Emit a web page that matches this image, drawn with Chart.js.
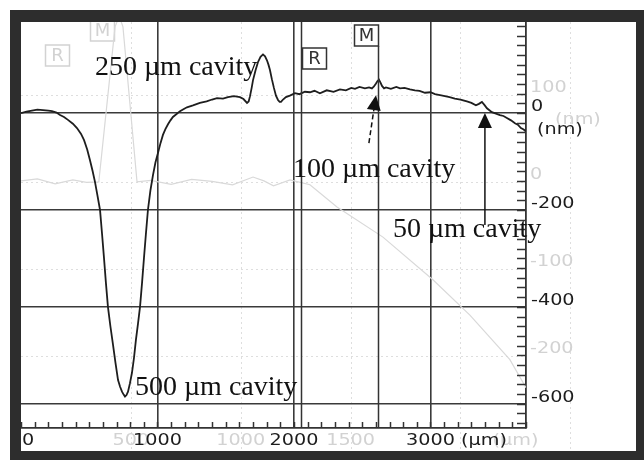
<!DOCTYPE html>
<html>
<head>
<meta charset="utf-8">
<title>Perfil de cavidades</title>
<script src="https://cdn.jsdelivr.net/npm/chart.js@4.4.0/dist/chart.umd.min.js"></script>
<style>
  html, body { margin: 0; padding: 0; background: #fff; }
  canvas { display: block; }
</style>
</head>
<body>
<canvas id="perfil" width="644" height="460"></canvas>
<script>
// perfil principal: posición (µm) y altura (nm)
const posX = [0, 40, 80, 120, 161, 200, 227, 260, 286, 315, 344, 380, 410, 440, 462, 485, 505, 525, 542, 560,
  579, 594, 608, 622, 637, 655, 674, 692, 711, 726, 740, 752, 762, 773, 784, 798, 813, 828, 842, 857,
  872, 887, 901, 915, 930, 948, 967, 985, 1004, 1022, 1040, 1058, 1077, 1095, 1113, 1140, 1165, 1190, 1216, 1260,
  1311, 1360, 1400, 1436, 1480, 1516, 1560, 1604, 1630, 1656, 1668, 1678, 1690, 1700, 1718, 1736, 1755, 1773, 1788, 1802,
  1813, 1824, 1838, 1853, 1868, 1883, 1895, 1905, 1920, 1941, 1970, 2007, 2040, 2080, 2117, 2150, 2190, 2240, 2290, 2337,
  2380, 2420, 2447, 2480, 2520, 2550, 2571, 2586, 2601, 2612, 2623, 2634, 2645, 2660, 2674, 2710, 2750, 2777, 2810, 2850,
  2886, 2920, 2960, 3000, 3033, 3070, 3106, 3140, 3179, 3220, 3267, 3300, 3333, 3355, 3377, 3395, 3414, 3432, 3450, 3480,
  3509, 3535, 3560, 3590, 3619, 3640, 3663, 3683, 3700];
const altura = [0, 3, 5, 7, 6, 5, 4, 1, -4, -8, -14, -22, -31, -43, -56, -75, -97, -120, -142, -170,
  -200, -250, -299, -350, -400, -440, -478, -515, -551, -565, -575, -581, -585, -582, -575, -558, -536, -505, -468, -435,
  -400, -350, -299, -250, -200, -160, -128, -102, -82, -62, -45, -33, -23, -15, -8, -2, 4, 8, 12, 16,
  21, 24, 28, 31, 30, 33, 35, 33, 29, 21, 24, 35, 52, 68, 88, 105, 116, 121, 117, 109,
  100, 89, 70, 52, 36, 27, 23, 23, 28, 33, 36, 41, 39, 44, 43, 46, 41, 47, 44, 49,
  47, 52, 50, 54, 51, 53, 51, 55, 61, 66, 69, 63, 56, 51, 53, 50, 54, 51, 52, 49,
  47, 46, 42, 43, 39, 37, 35, 33, 30, 28, 24, 21, 16, 19, 23, 17, 10, 6, 2, -1,
  -4, -6, -10, -15, -21, -24, -31, -34, -38];

// perfil "fantasma" de fondo (captura superpuesta), en las mismas unidades
const fantasmaX = [0, 120, 250, 380, 480, 570, 689, 720, 747, 850, 950, 1100, 1250, 1400, 1550, 1700, 1780, 1850, 1971,
  2117, 2315, 2652, 3018, 3289, 3582, 3700];
const fantasmaY = [-140, -136, -146, -138, -143, -142, 178, 200, 178, -142, -139, -147, -137, -141, -148, -132, -140, -150, -138,
  -148, -194, -256, -344, -417, -509, -567];

// ejes
const xGrid = [1000, 2000, 3000];
const xTickLabels = ['0', '1000', '2000', '3000'];
const xTickValues = [0, 1000, 2000, 3000];
const xUnidad = '(µm)';
const yGrid = [0, -200, -400, -600];
const yTickLabels = ['0', '-200', '-400', '-600'];
const yUnidad = '(nm)';
const pasoMenorX = 100;
const pasoMenorY = 20;

// marcadores R / M del perfilómetro
const marcadores = [{ label: 'R', x: 2050, lado: 'der', top: 48 }, { label: 'M', x: 2615, lado: 'izq', top: 25 }];
const marcadoresFantasma = [{ label: 'R', x: 168, lado: 'der', top: 45 }, { label: 'M', x: 681, lado: 'izq', top: 20 }];

// escala del fondo: valores fantasma -> unidades principales
const fantasmaXLabels = ['500', '1000', '1500'];
const fantasmaXValores = [500, 1000, 1500];
const fantasmaYLabels = ['100', '0', '-100', '-200'];
const fantasmaYValores = [100, 0, -100, -200];
const gx = v => v * 1.61;
const gy = v => -142 + v * 1.794;

// anotaciones
const notas = [
  { text: '250 µm cavity', x: 542, y: 78 },
  { text: '100 µm cavity', x: 1993, y: -132 },
  { text: '50 µm cavity', x: 2725, y: -256 },
  { text: '500 µm cavity', x: 835, y: -581 }
];
const flechas = [
  { desde: [2549, -62], hasta: [2601, 37], dash: [5, 3] },
  { desde: [3399, -231], hasta: [3399, 0], dash: [] }
];

const colorFantasma = '#d2d2d2';
const fuenteEje = '16px "DejaVu Sans"';

function textoEstirado(c, txt, x, y, align) {
  c.save();
  c.translate(x, y);
  c.scale(1.2, 1);
  c.textAlign = align || 'left';
  c.textBaseline = 'middle';
  c.fillText(txt, 0, 0);
  c.restore();
}

function flecha(c, x1, y1, x2, y2, dash) {
  const ang = Math.atan2(y2 - y1, x2 - x1), len = 15, half = 7;
  const bx = x2 - len * Math.cos(ang), by = y2 - len * Math.sin(ang);
  c.setLineDash(dash || []);
  c.beginPath(); c.moveTo(x1, y1); c.lineTo(bx, by); c.stroke();
  c.setLineDash([]);
  c.beginPath();
  c.moveTo(x2, y2);
  c.lineTo(bx + half * Math.sin(ang), by - half * Math.cos(ang));
  c.lineTo(bx - half * Math.sin(ang), by + half * Math.cos(ang));
  c.closePath(); c.fill();
}

function cajaMarcador(c, m, xs, bottom, color, conLinea) {
  const px = Math.round(xs.getPixelForValue(m.x)) + 0.5;
  const w = 24, h = 21;
  const left = m.lado === 'der' ? px + 1 : px - w;
  c.strokeStyle = color; c.fillStyle = color; c.lineWidth = 1.5;
  c.strokeRect(left, m.top, w, h);
  c.font = '18px "DejaVu Sans"';
  c.textAlign = 'center'; c.textBaseline = 'middle';
  c.fillText(m.label, left + w / 2, m.top + h / 2 + 1);
  if (conLinea) {
    c.beginPath(); c.moveTo(px, m.lado === 'izq' ? m.top + h : 22); c.lineTo(px, bottom); c.stroke();
  }
}

const decor = {
  id: 'decor',
  beforeDraw(chart) {
    const c = chart.ctx, xs = chart.scales.x, ys = chart.scales.y, a = chart.chartArea;
    c.save();
    c.fillStyle = '#fff';
    c.fillRect(0, 0, chart.width, chart.height);
    // rejilla del fondo
    c.strokeStyle = '#dedede'; c.lineWidth = 1; c.setLineDash([2, 3]);
    fantasmaXValores.concat([2000, 2500]).forEach(v => {
      const px = Math.round(xs.getPixelForValue(gx(v))) + 0.5;
      c.beginPath(); c.moveTo(px, a.top); c.lineTo(px, 450); c.stroke();
    });
    fantasmaYValores.forEach(v => {
      const py = Math.round(ys.getPixelForValue(gy(v))) + 0.5;
      c.beginPath(); c.moveTo(a.left, py); c.lineTo(a.right, py); c.stroke();
    });
    c.setLineDash([]);
    // etiquetas del fondo
    c.fillStyle = colorFantasma; c.font = fuenteEje;
    fantasmaYLabels.forEach((t, i) => {
      textoEstirado(c, t, a.right + 4, ys.getPixelForValue(gy(fantasmaYValores[i])) - 7, 'left');
    });
    textoEstirado(c, yUnidad, a.right + 29, ys.getPixelForValue(gy(100)) + 25, 'left');
    fantasmaXLabels.forEach((t, i) => {
      textoEstirado(c, t, xs.getPixelForValue(gx(fantasmaXValores[i])), 441, 'center');
    });
    textoEstirado(c, xUnidad, xs.getPixelForValue(gx(2250)), 441, 'center');
    marcadoresFantasma.forEach(m => cajaMarcador(c, m, xs, a.bottom, colorFantasma, false));
    c.restore();
  },
  afterDraw(chart) {
    const c = chart.ctx, xs = chart.scales.x, ys = chart.scales.y, a = chart.chartArea;
    c.save();
    c.strokeStyle = '#333'; c.lineWidth = 1.5;
    // marcas menores
    for (let v = 0; v <= xs.max; v += pasoMenorX) {
      const px = Math.round(xs.getPixelForValue(v)) + 0.5;
      c.beginPath(); c.moveTo(px, a.bottom); c.lineTo(px, a.bottom - 6); c.stroke();
    }
    for (let v = -640; v <= ys.max; v += pasoMenorY) {
      const py = Math.round(ys.getPixelForValue(v)) + 0.5;
      c.beginPath(); c.moveTo(a.right, py); c.lineTo(a.right - 9, py); c.stroke();
    }
    // marcadores R y M
    marcadores.forEach(m => cajaMarcador(c, m, xs, a.bottom, '#333', true));
    // etiquetas de ejes
    c.fillStyle = '#1c1c1c'; c.font = fuenteEje;
    xTickLabels.forEach((t, i) => {
      const px = xs.getPixelForValue(xTickValues[i]);
      if (i === 0) {
        textoEstirado(c, t, px + 1, 441, 'left');
      } else {
        textoEstirado(c, t, px, 441, 'center');
      }
    });
    const x3000 = xs.getPixelForValue(xTickValues[3]);
    const ancho = c.measureText(xTickLabels[3] + ' ').width * 1.2;
    textoEstirado(c, xUnidad, x3000 - c.measureText(xTickLabels[3]).width * 0.6 + ancho, 441, 'left');
    yTickLabels.forEach((t, i) => {
      textoEstirado(c, t, a.right + 5, ys.getPixelForValue(yGrid[i]) - 6, 'left');
    });
    textoEstirado(c, yUnidad, a.right + 11, ys.getPixelForValue(0) + 17, 'left');
    // anotaciones
    c.fillStyle = '#111';
    c.font = '28px "Liberation Serif"';
    c.textAlign = 'left'; c.textBaseline = 'alphabetic';
    notas.forEach(n => c.fillText(n.text, xs.getPixelForValue(n.x), ys.getPixelForValue(n.y)));
    c.strokeStyle = '#111'; c.lineWidth = 1.5;
    flechas.forEach(f => {
      flecha(c, xs.getPixelForValue(f.desde[0]), ys.getPixelForValue(f.desde[1]),
        xs.getPixelForValue(f.hasta[0]), ys.getPixelForValue(f.hasta[1]), f.dash);
    });
    // marco oscuro
    c.fillStyle = '#2d2d2d';
    c.fillRect(10, 10, 634, 12);
    c.fillRect(10, 10, 11, 450);
    c.fillRect(636, 10, 8, 450);
    c.fillRect(10, 451, 634, 9);
    c.restore();
  }
};

document.addEventListener('DOMContentLoaded', function () {
  const canvas = document.getElementById('perfil');
  const principal = posX.map((x, i) => ({ x: x, y: altura[i] }));
  const fantasma = fantasmaX.map((x, i) => ({ x: x, y: fantasmaY[i] }));

  new Chart(canvas, {
    type: 'line',
    data: {
      datasets: [
        { data: principal, borderColor: '#1e1e1e', borderWidth: 1.8, pointRadius: 0, tension: 0, order: 1 },
        { data: fantasma, borderColor: '#d9d9d9', borderWidth: 1.2, pointRadius: 0, tension: 0, order: 2 }
      ]
    },
    options: {
      responsive: false,
      animation: false,
      devicePixelRatio: 1,
      layout: { padding: { left: 21, top: 22, right: 118, bottom: 32 } },
      plugins: { legend: { display: false }, tooltip: { enabled: false } },
      scales: {
        x: {
          type: 'linear', min: 0, max: 3700,
          afterBuildTicks: ax => { ax.ticks = xGrid.map(v => ({ value: v })); },
          ticks: { display: false },
          grid: { color: '#3a3a3a', lineWidth: 1.6, drawTicks: false },
          border: { color: '#333', width: 1.8 }
        },
        y: {
          type: 'linear', position: 'right', min: -650, max: 188,
          afterBuildTicks: ax => { ax.ticks = yGrid.map(v => ({ value: v })); },
          ticks: { display: false },
          grid: { color: '#3a3a3a', lineWidth: 1.6, drawTicks: false },
          border: { color: '#333', width: 1.8 }
        }
      }
    },
    plugins: [decor]
  });
});
</script>
</body>
</html>
